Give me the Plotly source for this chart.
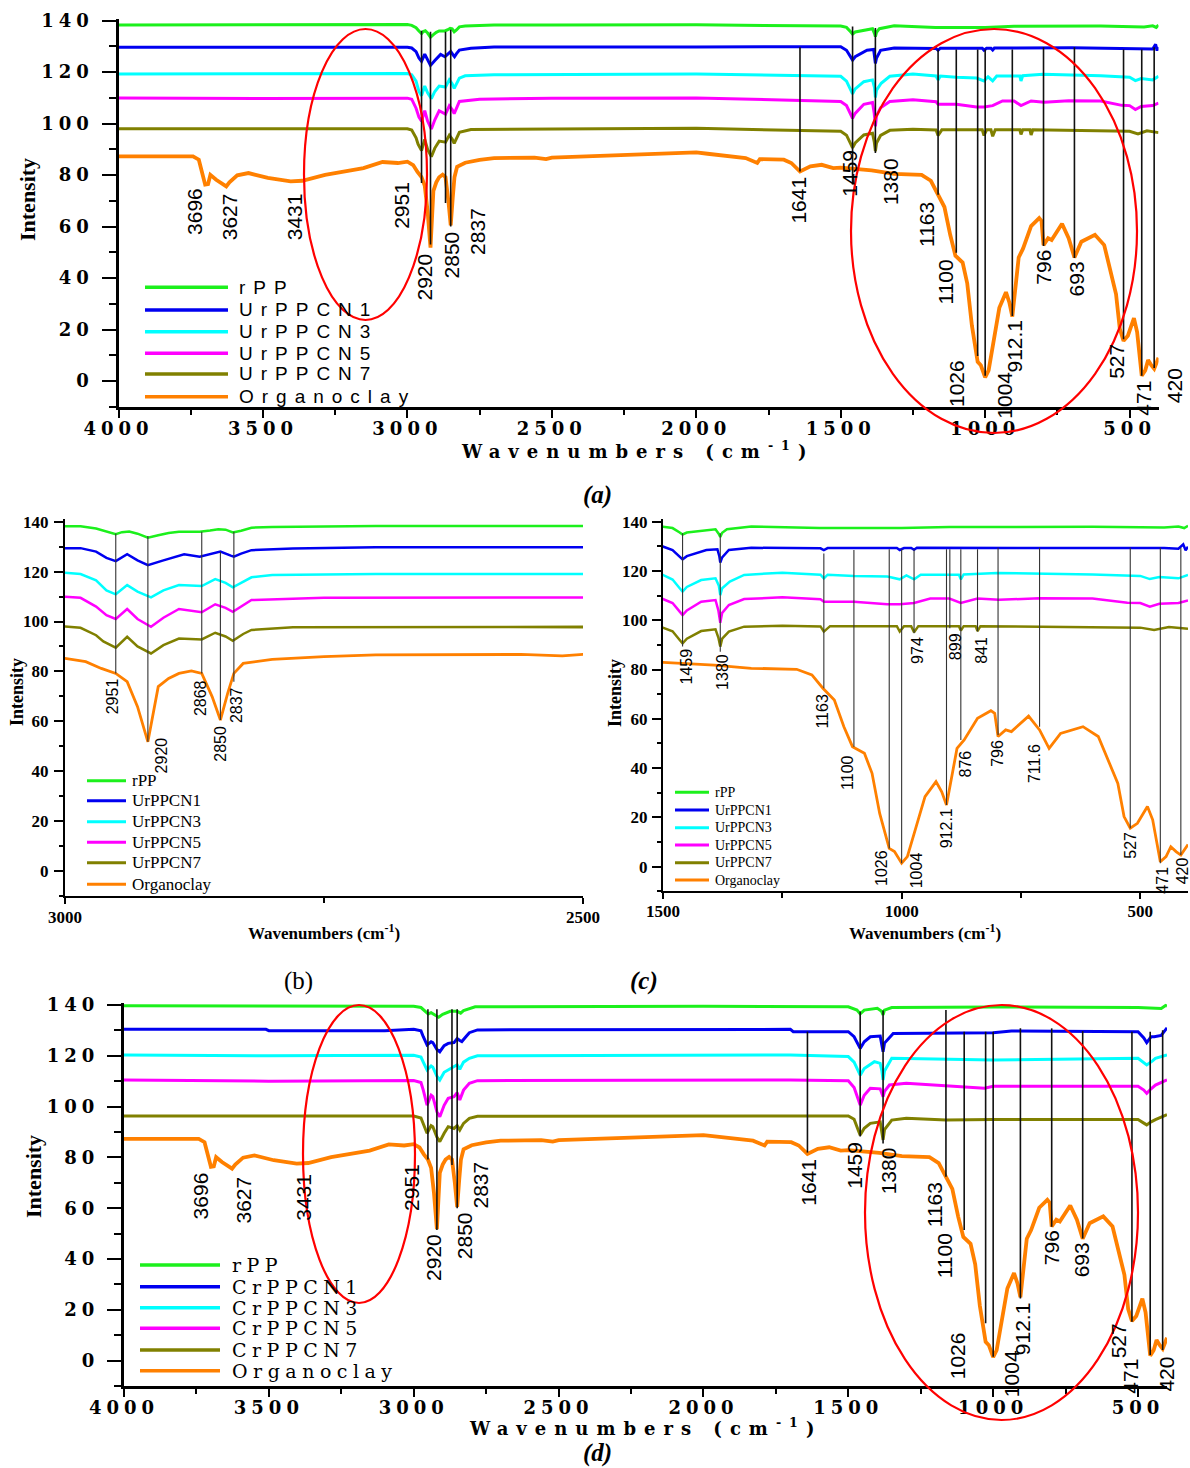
import json
import plotly.graph_objects as go

W, H = 1190, 1468

# ---------------------------------------------------------------- data
# (wavenumber cm-1, intensity) points
rpp_ur = [(4000, 138.3), (3500, 138.3), (3000, 138.5), (2985, 138.2), (2970, 137.3), (2960, 136.0),
          (2951, 135.0), (2945, 135.8), (2938, 136.1), (2930, 135.2), (2920, 133.6), (2910, 134.6),
          (2900, 135.5), (2890, 136.0), (2870, 136.0), (2860, 136.5), (2852, 137.0), (2845, 136.8),
          (2838, 135.7), (2830, 136.4), (2820, 137.6), (2800, 137.9), (2700, 138.3), (2500, 138.3),
          (2000, 138.4), (1500, 137.9), (1480, 137.4), (1465, 135.6), (1459, 134.8), (1450, 135.6),
          (1425, 136.2), (1390, 136.9), (1383, 135.0), (1380, 133.8), (1376, 135.5), (1366, 136.9),
          (1315, 138.0), (1172, 137.4), (1000, 137.4), (900, 137.8), (600, 137.9), (450, 137.6),
          (420, 138.0), (408, 137.4), (400, 138.3)]

ur1 = [(4000, 129.7), (3000, 129.7), (2985, 129.4), (2970, 128.0), (2960, 125.5), (2951, 124.2),
       (2940, 127.0), (2930, 124.5), (2920, 122.6), (2905, 124.5), (2885, 126.9), (2870, 126.0),
       (2860, 127.0), (2850, 128.0), (2840, 126.4), (2837, 126.0), (2830, 127.2), (2820, 128.6),
       (2780, 129.3), (2700, 129.8), (2000, 129.8), (1500, 129.9), (1480, 128.5), (1465, 125.8),
       (1459, 124.7), (1450, 126.0), (1409, 128.5), (1386, 128.8), (1382, 126.0), (1380, 123.4),
       (1376, 125.5), (1362, 128.5), (1315, 129.4), (1170, 129.2), (1163, 128.5), (1155, 129.3),
       (1010, 129.3), (1004, 128.5), (995, 129.3), (980, 129.3), (974, 128.6), (968, 129.4),
       (700, 129.5), (450, 129.3), (420, 129.0), (410, 130.8), (405, 128.4), (400, 129.8)]

ur3 = [(4000, 119.3), (3000, 119.5), (2985, 119.0), (2970, 116.5), (2960, 112.5), (2951, 110.9),
       (2940, 114.6), (2930, 112.0), (2917, 109.7), (2905, 112.5), (2890, 114.6), (2868, 114.2),
       (2855, 117.0), (2845, 115.5), (2838, 113.7), (2828, 116.0), (2820, 117.7), (2800, 118.6),
       (2700, 119.0), (2000, 119.3), (1500, 118.4), (1480, 116.5), (1465, 113.0), (1459, 111.6),
       (1450, 113.5), (1420, 116.3), (1390, 117.0), (1383, 114.0), (1380, 110.2), (1376, 113.0),
       (1360, 115.7), (1330, 118.4), (1250, 119.3), (1170, 118.5), (1163, 117.0), (1155, 118.5),
       (1100, 118.0), (1030, 117.7), (1004, 116.6), (990, 118.2), (974, 116.6), (960, 118.5),
       (880, 118.5), (876, 116.6), (870, 118.6), (800, 119.2), (600, 118.6), (520, 118.0),
       (500, 118.0), (480, 116.7), (460, 117.5), (420, 117.0), (400, 118.4)]

ur5 = [(4000, 110.0), (3500, 109.8), (3000, 109.9), (2985, 109.5), (2970, 106.0), (2960, 102.5),
       (2951, 101.0), (2940, 105.0), (2930, 101.0), (2917, 97.9), (2905, 101.5), (2890, 105.0),
       (2868, 103.7), (2855, 106.9), (2845, 105.5), (2838, 103.9), (2828, 106.5), (2820, 108.6),
       (2750, 109.5), (2500, 109.9), (2000, 110.0), (1500, 108.6), (1480, 107.0), (1465, 103.5),
       (1459, 102.1), (1450, 104.0), (1420, 107.5), (1390, 108.2), (1384, 104.0), (1380, 99.0),
       (1376, 103.0), (1362, 106.2), (1330, 108.6), (1250, 109.3), (1170, 108.5), (1163, 107.5),
       (1100, 107.5), (1030, 106.5), (1004, 106.5), (974, 107.0), (940, 108.8), (900, 108.8),
       (876, 107.0), (841, 108.8), (796, 108.3), (711, 108.9), (600, 108.8), (527, 107.1),
       (500, 107.0), (480, 105.5), (460, 106.7), (420, 107.0), (400, 108.0)]

ur7 = [(4000, 98.0), (3000, 98.0), (2985, 97.5), (2970, 94.5), (2963, 92.0), (2951, 89.5),
       (2940, 93.9), (2930, 90.0), (2917, 87.2), (2905, 90.5), (2890, 93.2), (2868, 92.8),
       (2855, 95.5), (2845, 94.0), (2838, 92.3), (2828, 95.0), (2820, 96.6), (2780, 97.7),
       (2500, 97.9), (2000, 98.2), (1500, 97.0), (1480, 95.5), (1465, 92.0), (1459, 90.6),
       (1450, 92.5), (1420, 95.6), (1390, 96.3), (1384, 93.0), (1380, 89.3), (1376, 92.5),
       (1362, 95.4), (1330, 97.4), (1250, 97.8), (1170, 97.5), (1163, 95.4), (1150, 97.6),
       (1010, 97.6), (1004, 95.4), (995, 97.6), (980, 97.6), (974, 95.1), (965, 97.6),
       (880, 97.6), (876, 95.8), (870, 97.6), (845, 97.6), (841, 95.6), (835, 97.6),
       (500, 97.0), (471, 96.0), (440, 97.2), (420, 96.8), (400, 96.5)]

organoclay = [(4000, 87.3), (3742, 87.3), (3722, 86.0), (3709, 80.8), (3700, 76.3), (3690, 76.5),
              (3682, 80.1), (3662, 78.2), (3640, 76.5), (3627, 75.6), (3616, 77.2), (3589, 79.9),
              (3550, 80.8), (3483, 78.9), (3404, 77.6), (3364, 77.8), (3285, 80.1), (3152, 82.7),
              (3086, 85.1), (3033, 84.7), (3000, 85.2), (2980, 83.9), (2965, 81.2), (2951, 79.2),
              (2940, 75.9), (2930, 65.9), (2920, 51.8), (2910, 73.9), (2900, 77.2), (2890, 79.2),
              (2878, 80.2), (2868, 79.2), (2858, 69.9), (2850, 60.5), (2843, 71.2), (2837, 79.2),
              (2828, 83.2), (2800, 84.8), (2750, 85.9), (2700, 86.6), (2560, 86.8), (2520, 86.2),
              (2500, 86.8), (2355, 87.3), (2158, 87.9), (2000, 88.8), (1961, 88.3), (1829, 86.6),
              (1789, 84.7), (1780, 86.2), (1697, 86.0), (1671, 84.7), (1641, 81.4), (1605, 83.4),
              (1566, 84.0), (1526, 82.7), (1500, 82.9), (1393, 81.8), (1315, 80.5), (1220, 80.1),
              (1188, 77.8), (1165, 72.4), (1141, 67.6), (1121, 56.8), (1103, 48.7), (1078, 46.0),
              (1062, 37.9), (1046, 21.6), (1026, 7.4), (1015, 6.1), (1000, 1.4), (988, 4.1),
              (951, 28.4), (928, 34.5), (916, 30.4), (906, 25.0), (884, 48.0), (869, 51.4),
              (841, 60.2), (813, 63.3), (805, 62.2), (798, 52.8), (782, 55.5), (770, 54.8),
              (734, 61.1), (711, 55.5), (691, 48.0), (667, 54.1), (644, 55.5), (620, 56.8),
              (588, 52.8), (568, 43.3), (547, 33.8), (534, 20.3), (521, 15.6), (506, 17.6),
              (485, 24.4), (474, 19.0), (458, 2.0), (446, 4.1), (436, 8.1), (425, 6.1),
              (415, 4.7), (400, 9.0)]

rpp_cr = [(4000, 139.7), (3000, 139.5), (2975, 139.0), (2960, 137.4), (2950, 136.5), (2940, 137.0),
          (2925, 136.0), (2914, 135.2), (2900, 136.3), (2874, 137.5), (2850, 137.5), (2838, 136.8),
          (2828, 137.8), (2788, 139.3), (2000, 139.5), (1500, 139.3), (1470, 138.0), (1459, 136.5),
          (1445, 138.0), (1400, 138.7), (1385, 137.5), (1380, 136.1), (1375, 138.0), (1350, 139.0),
          (1000, 139.2), (500, 139.0), (420, 138.6), (405, 139.8), (400, 139.5)]

cr1 = [(4000, 130.4), (3510, 130.4), (3500, 129.9), (3100, 129.9), (3000, 130.4), (2975, 129.8),
       (2967, 127.5), (2954, 124.3), (2940, 125.5), (2934, 125.2), (2920, 122.5), (2910, 121.6),
       (2895, 124.0), (2881, 124.9), (2861, 125.2), (2850, 126.8), (2841, 126.0), (2834, 125.6),
       (2820, 127.5), (2808, 129.1), (2780, 130.2), (1700, 130.4), (1690, 129.5), (1500, 129.5),
       (1480, 127.5), (1465, 124.0), (1459, 122.9), (1445, 125.5), (1424, 127.5), (1390, 127.8),
       (1384, 124.0), (1380, 121.6), (1375, 125.0), (1345, 128.8), (1000, 129.1), (937, 129.8),
       (500, 129.5), (480, 127.0), (470, 125.2), (455, 127.5), (444, 127.5), (420, 128.0),
       (404, 130.4), (400, 131.0)]

cr3 = [(4000, 120.3), (3500, 120.0), (3000, 120.2), (2975, 119.5), (2967, 117.5), (2954, 114.4),
       (2940, 116.0), (2934, 115.5), (2920, 112.0), (2910, 110.5), (2895, 113.5), (2881, 114.4),
       (2861, 115.5), (2850, 116.5), (2841, 114.7), (2828, 117.5), (2808, 119.0), (2780, 120.0),
       (1700, 120.3), (1500, 119.7), (1480, 117.5), (1465, 113.5), (1459, 112.4), (1445, 115.0),
       (1410, 117.7), (1390, 117.0), (1384, 114.0), (1380, 110.5), (1375, 114.0), (1350, 119.0),
       (1000, 118.3), (500, 119.0), (480, 117.5), (470, 116.4), (450, 118.0), (440, 119.0),
       (400, 120.3)]

cr5 = [(4000, 110.5), (3500, 110.0), (3000, 110.3), (2975, 109.5), (2967, 106.5), (2954, 100.6),
       (2940, 104.5), (2934, 103.9), (2920, 98.0), (2910, 96.0), (2895, 100.5), (2881, 103.3),
       (2861, 103.9), (2850, 105.5), (2841, 102.6), (2828, 106.5), (2808, 109.2), (2780, 110.2),
       (1700, 110.5), (1500, 110.2), (1480, 107.5), (1465, 102.0), (1459, 100.6), (1445, 104.5),
       (1424, 107.2), (1390, 107.0), (1384, 105.0), (1380, 103.9), (1375, 106.0), (1358, 108.5),
       (1300, 109.2), (1030, 107.2), (1000, 108.0), (500, 108.0), (480, 106.5), (470, 105.2),
       (455, 107.0), (440, 108.5), (400, 110.5)]

cr7 = [(4000, 96.3), (3000, 96.3), (2975, 95.5), (2967, 93.4), (2954, 89.5), (2940, 92.5),
       (2934, 92.1), (2920, 88.0), (2910, 86.2), (2895, 89.5), (2881, 92.1), (2861, 91.4),
       (2850, 92.5), (2841, 90.8), (2828, 93.4), (2808, 95.4), (2780, 96.2), (1500, 96.3),
       (1480, 95.0), (1465, 90.5), (1459, 88.8), (1445, 91.5), (1424, 93.4), (1390, 94.0),
       (1384, 90.0), (1380, 86.9), (1375, 91.0), (1350, 94.7), (1300, 95.4), (1163, 94.7),
       (1004, 94.9), (500, 94.9), (480, 93.5), (470, 92.8), (455, 94.0), (440, 94.9),
       (400, 96.8)]

names_ur = ["rPP", "UrPPCN1", "UrPPCN3", "UrPPCN5", "UrPPCN7", "Organoclay"]
names_cr = ["rPP", "CrPPCN1", "CrPPCN3", "CrPPCN5", "CrPPCN7", "Organoclay"]
series_ur = [rpp_ur, ur1, ur3, ur5, ur7, organoclay]
series_cr = [rpp_cr, cr1, cr3, cr5, cr7, organoclay]
colors = ["#1cf01c", "#0000f0", "#00ffff", "#ff00ff", "#808000", "#ff8000"]

# peak marker lines: (wavenumber, top, bottom) and labels: (text, wavenumber, top)
lines_a = [(2951, 136.1, 76.9), (2920, 135.7, 53.0), (2868, 135.7, 69.2), (2850, 136.5, 60.0),
           (1641, 129.7, 81.4), (1459, 137.7, 76.3), (1380, 137.2, 88.6), (1163, 128.8, 72.4),
           (1100, 128.8, 49.8), (1026, 128.8, 9.7), (1000, 128.8, 2.0), (906, 128.8, 25.2),
           (798, 129.7, 52.4), (691, 129.7, 47.8), (521, 128.8, 16.2), (458, 128.8, 2.0),
           (415, 129.7, 5.0)]
labels_a = [("3696", 3735, 75.6), ("3627", 3616, 73.7), ("3431", 3391, 73.7), ("2951", 3020, 78.2),
            ("2920", 2940, 50.4), ("2850", 2848, 58.8), ("2837", 2755, 67.9), ("1641", 1647, 80.1),
            ("1459", 1471, 90.5), ("1380", 1325, 87.3), ("1163", 1205, 70.5), ("1100", 1139, 47.8),
            ("1026", 1101, 9.1), ("1004", 932, 4.5), ("912.1", 899, 24.6), ("796", 799, 51.7),
            ("693", 684, 47.2), ("527", 548, 15.3), ("471", 451, 1.0), ("420", 344, 5.8)]

lines_b = [(2951, 135.3, 79.2), (2920, 134.3, 51.8), (2868, 136.0, 79.2), (2850, 128.0, 60.5),
           (2837, 136.0, 75.9)]
labels_b = [("2951", 2954, 77.9), ("2920", 2907, 54.5), ("2868", 2869, 77.2), ("2850", 2850, 59.2),
            ("2837", 2835, 74.5)]

lines_c = [(1459, 135.3, 89.3), (1380, 135.3, 87.2), (1163, 127.1, 72.4), (1100, 128.5, 48.7),
           (1026, 128.8, 7.4), (1000, 128.8, 1.4), (974, 128.8, 94.7), (906, 128.8, 25.0),
           (899, 128.8, 96.7), (876, 128.8, 51.4), (841, 128.8, 95.4), (798, 129.4, 53.4),
           (711, 129.4, 56.8), (521, 129.4, 15.6), (458, 129.4, 1.4), (415, 129.4, 4.7)]
labels_c = [("1459", 1450, 89.3), ("1380", 1374, 87.2), ("1163", 1166, 71.0), ("1100", 1112, 46.0),
            ("1026", 1042, 7.4), ("1004", 967, 6.8), ("974", 967, 94.0), ("912.1", 906, 24.3),
            ("899", 888, 95.4), ("876", 866, 48.0), ("841", 833, 94.0), ("796", 798, 52.1),
            ("711.6", 723, 50.7), ("527", 521, 14.9), ("471", 454, 0.7), ("420", 411, 4.7)]

lines_d = [(2951, 138.3, 79.2), (2920, 138.3, 51.4), (2868, 138.3, 77.0), (2850, 138.3, 60.0),
           (1641, 129.5, 81.9), (1459, 137.4, 88.2), (1380, 137.8, 85.5), (1163, 138.0, 72.4),
           (1100, 129.5, 51.4), (1026, 129.5, 14.7), (1000, 129.5, 1.6), (906, 130.8, 24.5),
           (798, 130.8, 52.7), (691, 129.7, 48.1), (521, 129.5, 15.3), (458, 129.5, 2.2),
           (415, 130.1, 4.2)]
labels_d = [("3696", 3735, 75.0), ("3627", 3589, 73.1), ("3431", 3380, 74.4), ("2951", 3007, 78.3),
            ("2920", 2934, 50.8), ("2850", 2824, 59.3), ("2837", 2771, 79.0), ("1641", 1637, 80.3),
            ("1459", 1479, 86.9), ("1380", 1360, 84.9), ("1163", 1202, 71.1), ("1100", 1169, 50.8),
            ("1026", 1122, 12.1), ("1004", 938, 4.8), ("912.1", 898, 23.9), ("796", 799, 52.1),
            ("693", 694, 47.5), ("527", 569, 15.3), ("471", 526, 1.6), ("420", 400, 2.2)]


# ---------------------------------------------------------------- helpers
def px(x):
    return x / W


def py(y):
    return 1 - y / H


SERIF = "Liberation Serif, Times New Roman, serif"
WIDE = "DejaVu Serif, serif"
SANS = "Liberation Sans, Arial, sans-serif"
NARROW = "Liberation Sans Narrow, Arial Narrow, Liberation Sans, Arial, sans-serif"

panels = [
    dict(xa="x", ya="y", names=names_ur, series=series_ur, dx=(118.5, 1158.5), dy=(18.9, 406.7),
         xr=[4000, 400], yr=[-10, 140.7], big=True, lines=lines_a, labels=labels_a,
         ylen=14, xlen=8, ystand=4, xstand=-4),
    dict(xa="x2", ya="y2", names=names_ur, series=series_ur, dx=(65, 583), dy=(519.2, 896.0),
         xr=[3000, 2500], yr=[-10, 141], big=False, lines=lines_b, labels=labels_b,
         ylen=9, xlen=6, ystand=2, xstand=-1),
    dict(xa="x3", ya="y3", names=names_ur, series=series_ur, dx=(663, 1188), dy=(519.2, 891.3),
         xr=[1500, 400], yr=[-10, 141], big=False, lines=lines_c, labels=labels_c,
         ylen=9, xlen=6, ystand=1, xstand=-3),
    dict(xa="x4", ya="y4", names=names_cr, series=series_cr, dx=(124, 1167), dy=(1003.2, 1386.1),
         xr=[4000, 400], yr=[-10, 140.7], big=True, lines=lines_d, labels=labels_d,
         ylen=14, xlen=8, ystand=4, xstand=-5),
]

fig = go.Figure()
layout = dict(width=W, height=H, margin=dict(l=0, r=0, t=0, b=0, autoexpand=False),
              paper_bgcolor="white", plot_bgcolor="white", showlegend=False)
shapes = []
annotations = []
spacing = {}  # annotation index -> letter spacing (px)

for i, p in enumerate(panels):
    big = p["big"]
    lw = 3.0 if big else 2.5
    for name, pts, col in zip(p["names"], p["series"], colors):
        fig.add_trace(go.Scatter(
            x=[a for a, b in pts], y=[b for a, b in pts], mode="lines", name=name,
            line=dict(color=col, width=(3.8 if big else 2.8) if name == "Organoclay" else lw),
            xaxis=p["xa"], yaxis=p["ya"], hoverinfo="skip"))

    tickfont = dict(family=WIDE, size=18, color="black", weight="bold") if big else \
        dict(family=SERIF, size=17, color="black", weight="bold")
    axw = 3 if big else 2
    tw = 2 if big else 1.5
    xkey = "xaxis" + p["xa"][1:]
    ykey = "yaxis" + p["ya"][1:]
    layout[xkey] = dict(domain=[px(p["dx"][0]), px(p["dx"][1])], range=p["xr"], anchor=p["ya"],
                        automargin=False,
                        showline=True, linecolor="black", linewidth=axw, mirror=False,
                        ticks="outside", ticklen=p["xlen"], tickwidth=tw, tickcolor="black",
                        tick0=0, dtick=500, showgrid=False, zeroline=False, tickfont=tickfont,
                        ticklabelstandoff=p["xstand"],
                        minor=dict(dtick=250, tick0=0, ticks="outside", ticklen=5, tickwidth=tw,
                                   tickcolor="black", showgrid=False))
    layout[ykey] = dict(domain=[py(p["dy"][1]), py(p["dy"][0])], range=p["yr"], anchor=p["xa"],
                        automargin=False,
                        showline=True, linecolor="black", linewidth=axw, mirror=False,
                        ticks="outside", ticklen=p["ylen"], tickwidth=tw, tickcolor="black",
                        tick0=0, dtick=20, showgrid=False, zeroline=False, tickfont=tickfont,
                        ticklabelstandoff=p["ystand"],
                        minor=dict(dtick=10, tick0=0, ticks="outside", ticklen=p["ylen"] // 2,
                                   tickwidth=tw, tickcolor="black", showgrid=False))

    # peak marker lines
    for wn, top, bot in p["lines"]:
        shapes.append(dict(type="line", xref=p["xa"], yref=p["ya"], x0=wn, x1=wn, y0=top, y1=bot,
                           line=dict(color="#111111" if big else "#333333", width=1.6 if big else 1.1),
                           layer="above"))
    # peak labels
    for txt, wn, top in p["labels"]:
        xs = 0
        lo = min(p["xr"])
        if wn < lo:
            xs = (lo - wn) * (p["dx"][1] - p["dx"][0]) / (p["xr"][0] - p["xr"][1])
            wn = lo
        annotations.append(dict(text=txt, x=wn, y=top, xref=p["xa"], yref=p["ya"], xshift=xs,
                                textangle=-90, xanchor="center", yanchor="top", showarrow=False,
                                font=dict(family=NARROW if big else SANS, size=21 if big else 16,
                                          color="black")))

# ---------------------------------------------------------------- axis titles / captions
title_specs = [
    # (x px, y px, font, size, letter spacing)
    (637, 450, WIDE, 18, 8), (324, 932, SERIF, 17, 0), (925, 932, SERIF, 17, 0),
    (645, 1427, WIDE, 18, 8)]
for x, y, fam, sz, ls in title_specs:
    if ls:
        spacing[len(annotations)] = ls
    annotations.append(dict(text="Wavenumbers (cm<sup>-1</sup>)", x=px(x), y=py(y), xref="paper",
                            yref="paper", xanchor="center", yanchor="middle", showarrow=False,
                            font=dict(family=fam, size=sz, color="black", weight="bold")))
ytitle_specs = [(27, 200, 22), (17, 692, 18), (615, 693, 18), (33, 1177, 22)]
for x, y, sz in ytitle_specs:
    annotations.append(dict(text="Intensity", x=px(x), y=py(y), xref="paper", yref="paper",
                            xanchor="center", yanchor="middle", textangle=-90, showarrow=False,
                            font=dict(family=SERIF, size=sz, color="black", weight="bold")))
captions = [("(a)", 597, 495, "italic", "bold"), ("(b)", 298, 981, "normal", "normal"),
            ("(c)", 644, 981, "italic", "bold"), ("(d)", 597, 1453, "italic", "bold")]
for txt, x, y, st, wt in captions:
    annotations.append(dict(text=txt, x=px(x), y=py(y), xref="paper", yref="paper",
                            xanchor="center", yanchor="middle", showarrow=False,
                            font=dict(family=SERIF, size=25, color="black", style=st, weight=wt)))

# ---------------------------------------------------------------- legends (drawn per panel)
legend_specs = [
    # names, line x0, line x1, text x, row ys, font family, size, line width, letter spacing
    (names_ur, 145, 228, 237, [287.3, 310, 331.7, 353.3, 374, 396.7], SANS, 19, 3.5, 8),
    (names_ur, 87, 126, 130, [780.7, 800.7, 821.7, 842.3, 862.7, 884.3], SERIF, 17, 3, 0),
    (names_ur, 675, 709, 713, [792.3, 810, 827.7, 845, 862.7, 880], SERIF, 14, 3, 0),
    (names_cr, 140, 220, 229.6, [1265, 1286.7, 1307.7, 1328.3, 1350, 1370.7], WIDE, 19, 3.5, 5.5),
]
for names, x0, x1, tx, ys, fam, sz, lwid, ls in legend_specs:
    for name, col, y in zip(names, colors, ys):
        shapes.append(dict(type="line", xref="paper", yref="paper", x0=px(x0), x1=px(x1),
                           y0=py(y), y1=py(y), line=dict(color=col, width=lwid)))
        if ls:
            spacing[len(annotations)] = ls
        annotations.append(dict(text=name, x=px(tx), y=py(y), xref="paper", yref="paper",
                                xanchor="left", yanchor="middle", align="left", showarrow=False,
                                font=dict(family=fam, size=sz, color="black")))

# ---------------------------------------------------------------- red ellipses
ellipses = [(304, 427, 29, 320), (851, 1137, 29, 433), (303, 415, 1005, 1303), (865, 1138, 1005, 1420)]
for x0, x1, y0, y1 in ellipses:
    shapes.append(dict(type="circle", xref="paper", yref="paper", x0=px(x0), x1=px(x1),
                       y0=py(y1), y1=py(y0), line=dict(color="#ff0000", width=2.2),
                       fillcolor="rgba(0,0,0,0)", layer="above"))

layout["shapes"] = shapes
layout["annotations"] = annotations
fig.update_layout(**layout)

# widen the letter spacing of the stretched-looking texts of panels (a) and (d)
post_js = """
var gd = document.getElementById('{plot_id}');
var sp = %s;
function setLS(t, v) { if (t.style.letterSpacing !== v) { t.style.letterSpacing = v; } }
function widen() {
  gd.querySelectorAll('g.annotation').forEach(function (g) {
    var k = g.getAttribute('data-index');
    if (sp[k] !== undefined) {
      g.querySelectorAll('text').forEach(function (t) { setLS(t, sp[k] + 'px'); });
    }
  });
  gd.querySelectorAll('.xtick text, .ytick text, .x4tick text, .y4tick text').forEach(function (t) {
    var st = (t.getAttribute('style') || '') + ' ' + (t.style.fontFamily || '');
    if (st.indexOf('DejaVu') >= 0) { setLS(t, '5px'); }
  });
}
widen();
gd.on('plotly_afterplot', widen);
new MutationObserver(function () { widen(); }).observe(gd, {childList: true, subtree: true});
[0, 50, 200, 500, 1000, 2000].forEach(function (ms) { setTimeout(widen, ms); });
""" % json.dumps({str(k): v for k, v in spacing.items()})

fig.write_html("out.html", post_script=post_js)
